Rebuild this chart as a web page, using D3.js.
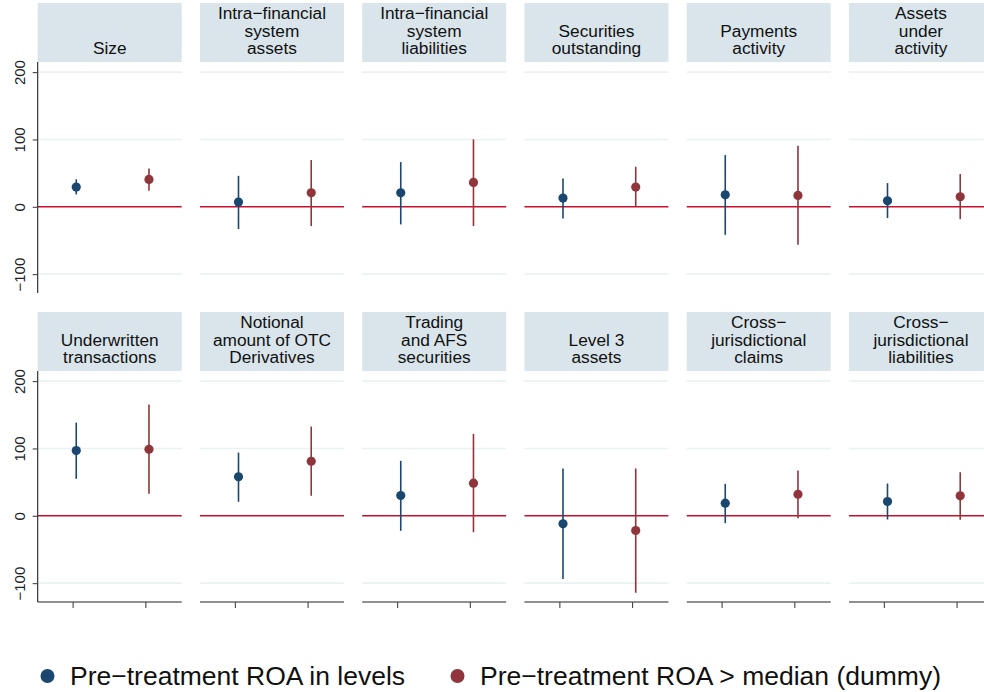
<!DOCTYPE html>
<html>
<head>
<meta charset="utf-8">
<script src="https://cdn.jsdelivr.net/npm/d3@7/dist/d3.min.js"></script>
<style>
  html, body { margin: 0; padding: 0; background: #fff; }
  svg { display: block; font-family: "Liberation Sans", Arial, Helvetica, sans-serif; }
</style>
</head>
<body>
<svg id="chart" width="984" height="692"></svg>
<script>
// ---- data ----
const panelTitles = [
  ["Size"],
  ["Intra\u2212financial", "system", "assets"],
  ["Intra\u2212financial", "system", "liabilities"],
  ["Securities", "outstanding"],
  ["Payments", "activity"],
  ["Assets", "under", "activity"],
  ["Underwritten", "transactions"],
  ["Notional", "amount of OTC", "Derivatives"],
  ["Trading", "and AFS", "securities"],
  ["Level 3", "assets"],
  ["Cross\u2212", "jurisdictional", "claims"],
  ["Cross\u2212", "jurisdictional", "liabilities"]
];
const seriesNames = ["Pre\u2212treatment ROA in levels", "Pre\u2212treatment ROA > median (dummy)"];
const levelsEst = [29.3, 7.0, 20.8, 12.9, 17.8, 8.9, 96.9, 57.9, 30.1, -11.9, 18.7, 21.2];
const levelsLo  = [18.4, -33.0, -26.2, -17.2, -41.6, -16.8, 54.9, 20.8, -22.3, -94.0, -10.9, -5.5];
const levelsHi  = [40.7, 46.0, 66.4, 42.2, 76.8, 35.2, 138.4, 93.9, 81.6, 70.2, 47.5, 47.9];
const dummyEst  = [40.7, 20.8, 36.2, 29.3, 16.9, 14.9, 98.8, 81.0, 48.4, -21.8, 32.0, 29.7];
const dummyLo   = [23.8, -28.7, -28.7, 0.0, -56.5, -18.3, 32.6, 29.7, -24.3, -114.3, -3.5, -5.9];
const dummyHi   = [57.0, 69.4, 100.1, 59.4, 90.6, 48.6, 165.1, 132.5, 121.7, 70.2, 67.2, 64.7];
const yTicks = [-100, 0, 100, 200];
const yDomain = [-128, 215];

// ---- layout ----
const colors = ["#1a476f", "#90353b"];
const svg = d3.select("#chart");
const nCols = 6;
const panelW = 144, colStep = 162.25, left0 = 37.7;
const rowTops = [3, 312];
const headerH = 59;
const plotH = 231;

const series = [
  {est: levelsEst, lo: levelsLo, hi: levelsHi, off: 0.05, color: colors[0]},
  {est: dummyEst, lo: dummyLo, hi: dummyHi, off: 0.05, color: colors[1]}
];

panelTitles.forEach((title, i) => {
  const col = i % nCols, row = Math.floor(i / nCols);
  const x0 = left0 + col * colStep;
  const hTop = rowTops[row];
  const pTop = hTop + headerH;
  const pBot = pTop + plotH;

  const x = d3.scaleLinear().domain([0.52, 2.5]).range([x0, x0 + panelW]);
  const y = d3.scaleLinear().domain(yDomain).range([pBot, pTop]);

  const g = svg.append("g");

  // header
  g.append("rect").attr("x", x0).attr("y", hTop).attr("width", panelW).attr("height", headerH)
    .attr("fill", "#d9e5eb");
  const lineH = 17.4;
  const lastBase = hTop + 51;
  title.forEach((t, k) => {
    g.append("text")
      .attr("x", x0 + panelW / 2)
      .attr("y", lastBase - (title.length - 1 - k) * lineH)
      .attr("text-anchor", "middle")
      .attr("font-size", "17.3px")
      .attr("fill", "#111")
      .text(t);
  });

  // gridlines
  g.selectAll(".grid").data(yTicks.filter(v => v !== 0)).enter().append("line")
    .attr("x1", x0).attr("x2", x0 + panelW)
    .attr("y1", d => y(d)).attr("y2", d => y(d))
    .attr("stroke", "#eaf2f3").attr("stroke-width", 1.6);

  // zero line
  g.append("line").attr("x1", x0).attr("x2", x0 + panelW)
    .attr("y1", y(0)).attr("y2", y(0))
    .attr("stroke", "#c8102e").attr("stroke-width", 1.6);

  // y axis on first column
  if (col === 0) {
    const ay = g.append("g").attr("transform", `translate(${x0},0)`)
      .call(d3.axisLeft(y).tickValues(yTicks).tickSize(5).tickFormat(d => d < 0 ? "\u2212" + Math.abs(d) : d));
    ay.select(".domain").attr("d", `M0,${pTop}V${pBot}`).attr("stroke", "#222").attr("stroke-width", 1.1);
    ay.selectAll(".tick line").attr("stroke", "#444").attr("stroke-width", 1.1);
    ay.selectAll(".tick text")
      .attr("font-size", "15px").attr("fill", "#222")
      .attr("font-family", "'Liberation Sans', Arial, sans-serif")
      .attr("transform", "rotate(-90)")
      .attr("x", 0).attr("dy", 0)
      .attr("y", -13)
      .attr("text-anchor", "middle");
  }

  // x axis on bottom row
  if (row === 1) {
    const ax = g.append("g").attr("transform", `translate(0,${pBot})`)
      .call(d3.axisBottom(x).tickValues([1, 2]).tickSize(6).tickFormat(""));
    ax.select(".domain").attr("d", `M${x0},0H${x0 + panelW}`).attr("stroke", "#222").attr("stroke-width", 1.1);
    ax.selectAll(".tick line").attr("stroke", "#444").attr("stroke-width", 1.1);
  }

  // CIs and points
  series.forEach((s, k) => {
    const cx = x(k + 1 + s.off);
    g.append("line").attr("x1", cx).attr("x2", cx)
      .attr("y1", y(s.lo[i])).attr("y2", y(s.hi[i]))
      .attr("stroke", s.color).attr("stroke-width", 1.6);
    g.append("circle").attr("cx", cx).attr("cy", y(s.est[i])).attr("r", 4.6)
      .attr("fill", s.color);
  });
});

// legend
const legendX = [47.5, 457.5];
const legend = svg.append("g");
seriesNames.forEach((name, k) => {
  legend.append("circle").attr("cx", legendX[k]).attr("cy", 676).attr("r", 7).attr("fill", colors[k]);
  legend.append("text").attr("x", legendX[k] + 22.5).attr("y", 684.5)
    .attr("font-size", "26.5px").attr("fill", "#111").text(name);
});
</script>
</body>
</html>
